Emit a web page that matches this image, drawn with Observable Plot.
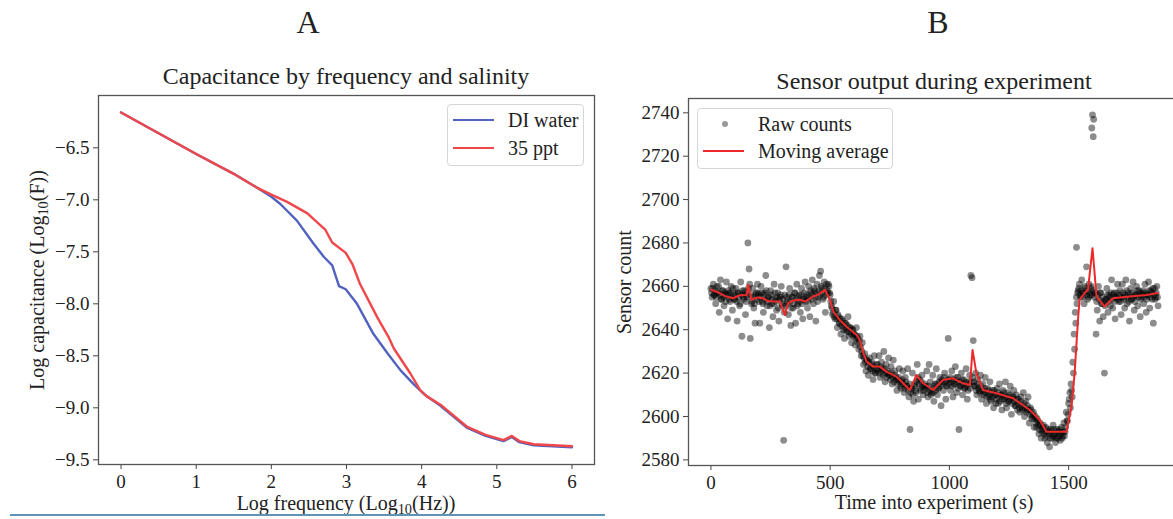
<!DOCTYPE html>
<html>
<head>
<meta charset="utf-8">
<script src="https://cdn.jsdelivr.net/npm/d3@7"></script>
<script src="https://cdn.jsdelivr.net/npm/@observablehq/plot@0.6"></script>
<style>
html, body { margin: 0; padding: 0; background: #fff; overflow: hidden; }
#wrap { position: relative; width: 1173px; height: 519px; overflow: hidden;
  font-family: "Liberation Serif", "Times New Roman", serif; color: #222; }
.abs { position: absolute; white-space: nowrap; line-height: 1; }
.ctr { transform: translateX(-50%); }
.rot { transform: translate(-50%, -50%) rotate(-90deg); }
sub { font-size: 0.72em; vertical-align: -0.25em; line-height: 0; }
.legend { position: absolute; border: 1px solid #d6d6d6; border-radius: 4px; background: rgba(255,255,255,0.85); box-sizing: border-box; }
.row { position: absolute; left: 0; height: 28px; display: flex; align-items: center; font-size: 20px; white-space: nowrap; }
.swatch { display: inline-block; width: 41px; height: 2.4px; margin-left: 5px; margin-right: 14px; }
.dotsw { display: inline-block; width: 41px; height: 28px; margin-left: 7px; margin-right: 12px; position: relative; }
.dotsw i { position: absolute; left: 17px; top: 11px; width: 6px; height: 6px; border-radius: 50%; background: rgba(0,0,0,0.4); }
#wrap svg { position: absolute; top: 0; }
#wrap svg text { font-family: "Liberation Serif", "Times New Roman", serif; }
</style>
</head>
<body>
<div id="wrap"></div>
<script>
// ---------------- Panel A: capacitance by frequency ----------------
const xTicksA = [0, 1, 2, 3, 4, 5, 6];
const yTicksA = [-6.5, -7.0, -7.5, -8.0, -8.5, -9.0, -9.5];

const diFreqLog = [0, 0.5, 1, 1.5, 1.8, 2.0, 2.12, 2.34, 2.56, 2.70, 2.81, 2.90, 2.99, 3.14, 3.35, 3.55, 3.72, 3.89, 4.05, 4.25, 4.6, 4.85, 5.09, 5.2, 5.3, 5.49, 6.0];
const diLogCap  = [-6.16, -6.36, -6.56, -6.75, -6.88, -6.97, -7.04, -7.20, -7.42, -7.55, -7.63, -7.83, -7.86, -8.00, -8.28, -8.48, -8.64, -8.77, -8.88, -8.98, -9.19, -9.27, -9.32, -9.28, -9.33, -9.36, -9.38];

const saltFreqLog = [0, 0.5, 1, 1.5, 1.8, 2.0, 2.21, 2.48, 2.72, 2.81, 2.99, 3.08, 3.18, 3.41, 3.56, 3.63, 3.85, 3.98, 4.07, 4.25, 4.6, 4.85, 5.09, 5.2, 5.3, 5.49, 6.0];
const saltLogCap  = [-6.16, -6.36, -6.56, -6.75, -6.88, -6.95, -7.02, -7.13, -7.29, -7.41, -7.51, -7.62, -7.81, -8.13, -8.32, -8.43, -8.67, -8.83, -8.89, -8.97, -9.18, -9.26, -9.31, -9.27, -9.32, -9.35, -9.37];

// ---------------- Panel B: sensor output ----------------
const xTicksB = [0, 500, 1000, 1500];
const yTicksB = [2580, 2600, 2620, 2640, 2660, 2680, 2700, 2720, 2740];
const sampleInterval = 5; // seconds between readings of each channel
// channel 1 readings at t = 0, 5, 10, ...
const rawCounts = [
  2659, 2655, 2661, 2656, 2652, 2660, 2657, 2648, 2663, 2654, 2658, 2651, 2656, 2662, 2645, 2657, 2653, 2660, 2649, 2656,
  2654, 2659, 2644, 2657, 2651, 2662, 2637, 2655, 2658, 2647, 2656, 2680, 2668, 2636, 2652, 2659, 2650, 2643, 2657, 2661,
  2656, 2643, 2660, 2653, 2648, 2657, 2665, 2651, 2655, 2641, 2658, 2652, 2646, 2661, 2654, 2649, 2657, 2644, 2655, 2660,
  2651, 2589, 2656, 2669, 2653, 2647, 2659, 2642, 2655, 2650, 2657, 2643, 2661, 2652, 2656, 2648, 2659, 2645, 2654, 2662,
  2655, 2650, 2660, 2646, 2657, 2663, 2652, 2658, 2644, 2661, 2655, 2665, 2667, 2659, 2654, 2662, 2648, 2661, 2657, 2660,
  2656, 2651, 2647, 2653, 2645, 2649, 2641, 2646, 2643, 2638, 2645, 2640, 2636, 2643, 2639, 2646, 2637, 2641, 2634, 2640,
  2638, 2633, 2641, 2636, 2631, 2637, 2628, 2634, 2624, 2629, 2621, 2626, 2619, 2627, 2622, 2625, 2617, 2628, 2620, 2624,
  2621, 2628, 2618, 2625, 2622, 2630, 2616, 2624, 2620, 2627, 2619, 2623, 2615, 2626, 2621, 2618, 2612, 2617, 2622, 2614,
  2616, 2621, 2611, 2618, 2614, 2622, 2609, 2594, 2613, 2620, 2607, 2615, 2611, 2624, 2608, 2617, 2612, 2619, 2610, 2614,
  2614, 2621, 2609, 2624, 2616, 2611, 2619, 2607, 2615, 2622, 2610, 2613, 2618, 2605, 2616, 2612, 2620, 2608, 2614, 2636,
  2617, 2612, 2621, 2609, 2615, 2623, 2611, 2618, 2594, 2614, 2620, 2610, 2617, 2613, 2622, 2608, 2616, 2619, 2665, 2664,
  2635, 2614, 2620, 2610, 2617, 2612, 2619, 2608, 2615, 2611, 2618, 2606, 2613, 2609, 2616, 2607, 2612, 2604, 2610, 2606,
  2613, 2606, 2615, 2610, 2603, 2612, 2608, 2616, 2604, 2611, 2607, 2614, 2601, 2609, 2612, 2605, 2610, 2603, 2608, 2602,
  2609, 2604, 2611, 2600, 2607, 2603, 2609, 2597, 2604, 2599, 2601, 2595, 2600, 2595, 2598, 2592, 2597, 2590, 2594, 2596,
  2590, 2595, 2588, 2593, 2586, 2594, 2590, 2596, 2591, 2588, 2594, 2590, 2593, 2589, 2595, 2591, 2597, 2593, 2602, 2598,
  2606, 2611, 2615, 2609, 2620, 2631, 2643, 2652, 2658, 2661, 2655, 2663, 2657, 2652, 2659, 2669, 2654, 2661, 2656, 2660,
  2739, 2737, 2657, 2638, 2649, 2660, 2644, 2657, 2652, 2646, 2620, 2654, 2659, 2648, 2656, 2651, 2663, 2650, 2657, 2645,
  2655, 2661, 2653, 2658, 2647, 2661, 2655, 2650, 2663, 2652, 2657, 2644, 2659, 2654, 2662, 2649, 2656, 2660, 2651, 2658,
  2646, 2655, 2657, 2652, 2661, 2648, 2656, 2662, 2650, 2658, 2654, 2643, 2659, 2655, 2660, 2651
];
// channel 2 readings at t = 2.5, 7.5, 12.5, ...
const rawCounts2 = [
  2657, 2659, 2656, 2658, 2655, 2657, 2660, 2656, 2654, 2658, 2655, 2657, 2653, 2656, 2658, 2654, 2657, 2655, 2659, 2654,
  2656, 2653, 2657, 2655, 2652, 2656, 2658, 2654, 2657, 2653, 2655, 2659, 2661, 2656, 2653, 2655, 2652, 2656, 2654, 2657,
  2653, 2655, 2657, 2652, 2656, 2654, 2658, 2653, 2655, 2651, 2656, 2654, 2652, 2657, 2653, 2655, 2650, 2654, 2656, 2652,
  2654, 2648, 2651, 2655, 2652, 2656, 2653, 2650, 2655, 2652, 2657, 2654, 2651, 2655, 2653, 2656, 2652, 2654, 2657, 2653,
  2656, 2653, 2655, 2658, 2654, 2656, 2659, 2655, 2657, 2653, 2658, 2656, 2660, 2657, 2655, 2659, 2656, 2658, 2661, 2657,
  2653, 2650, 2648, 2646, 2649, 2645, 2647, 2643, 2645, 2642, 2644, 2641, 2643, 2640, 2642, 2639, 2641, 2638, 2640, 2637,
  2638, 2636, 2637, 2634, 2635, 2632, 2630, 2628, 2627, 2625, 2626, 2623, 2625, 2622, 2624, 2621, 2623, 2620, 2622, 2624,
  2622, 2620, 2623, 2621, 2619, 2622, 2620, 2618, 2621, 2619, 2617, 2620, 2618, 2616, 2619, 2617, 2615, 2618, 2616, 2613,
  2617, 2615, 2613, 2616, 2614, 2612, 2615, 2611, 2613, 2610, 2614, 2612, 2616, 2618, 2615, 2613, 2616, 2614, 2612, 2615,
  2613, 2611, 2614, 2612, 2610, 2613, 2611, 2614, 2612, 2615, 2613, 2616, 2614, 2617, 2615, 2618, 2616, 2614, 2617, 2615,
  2618, 2616, 2614, 2617, 2615, 2618, 2616, 2613, 2616, 2614, 2617, 2615, 2613, 2616, 2614, 2612, 2615, 2613, 2616, 2618,
  2616, 2614, 2612, 2615, 2613, 2611, 2614, 2612, 2610, 2613, 2611, 2609, 2612, 2610, 2608, 2611, 2609, 2612, 2610, 2608,
  2611, 2609, 2607, 2610, 2608, 2611, 2609, 2606, 2609, 2607, 2610, 2608, 2606, 2609, 2607, 2605, 2608, 2606, 2604, 2607,
  2605, 2603, 2606, 2604, 2602, 2605, 2603, 2601, 2603, 2600, 2602, 2599, 2597, 2599, 2596, 2594, 2596, 2593, 2595, 2592,
  2593, 2591, 2594, 2592, 2590, 2593, 2591, 2594, 2592, 2590, 2593, 2591, 2594, 2592, 2590, 2593, 2591, 2595, 2598, 2601,
  2608, 2604, 2612, 2625, 2638, 2648, 2655, 2657, 2659, 2656, 2658, 2655, 2657, 2660, 2656, 2658, 2655, 2657, 2659, 2656,
  2658, 2655, 2657, 2653, 2656, 2654, 2657, 2652, 2655, 2653, 2651, 2654, 2656, 2653, 2655, 2657, 2654, 2656, 2653, 2655,
  2657, 2654, 2656, 2653, 2655, 2657, 2654, 2656, 2658, 2655, 2653, 2656, 2654, 2657, 2655, 2653, 2656, 2658, 2655, 2657,
  2654, 2656, 2658, 2655, 2657, 2654, 2656, 2658, 2655, 2657, 2659, 2656, 2654, 2657, 2655
];
const extraTimes  = [1533, 1597, 1603];
const extraCounts = [2678, 2733, 2729];

const maTimes = [0, 37, 60, 93, 120, 150, 156, 170, 195, 219, 240, 261, 289, 310, 324, 345, 373, 395, 428, 450,
  478, 499, 513, 540, 569, 611, 624, 639, 653, 680, 708, 736, 778, 834, 862, 890, 932, 973, 1015, 1057,
  1086, 1097, 1113, 1141, 1197, 1267, 1337, 1379, 1407, 1449, 1491, 1512, 1525, 1540, 1546, 1567, 1581, 1600, 1617, 1651,
  1686, 1756, 1826, 1874];
const maCounts = [2658.4, 2656.9, 2655.5, 2654.5, 2655.9, 2656, 2660.7, 2653.8, 2654.9, 2654.5, 2653.2, 2653, 2653, 2646.8, 2652.2, 2653.5, 2653.8, 2653.0, 2655.3, 2656.2,
  2658.4, 2653.8, 2648.4, 2644.5, 2641.4, 2637.6, 2635.3, 2629.2, 2625.3, 2623, 2623, 2620.7, 2618.4, 2612.2, 2619.1, 2615.3, 2612.2, 2616.8, 2617.6, 2615.3,
  2614.5, 2630.7, 2620, 2612.2, 2610.7, 2608.4, 2603, 2598.4, 2593, 2593, 2593, 2604.5, 2620, 2646, 2653.8, 2656.9, 2658.4, 2677.6, 2655.3, 2650.7,
  2654.5, 2655.3, 2656, 2656.9];

// ---------------- build tables ----------------
const diRows = diFreqLog.map((x, i) => ({x, y: diLogCap[i]}));
const saltRows = saltFreqLog.map((x, i) => ({x, y: saltLogCap[i]}));
const rawRows = rawCounts.map((c, i) => ({t: i * sampleInterval, c}))
  .concat(rawCounts2.map((c, i) => ({t: i * sampleInterval + sampleInterval / 2, c})))
  .concat(extraTimes.map((t, i) => ({t, c: extraCounts[i]})));
const maRows = maTimes.map((t, i) => ({t, c: maCounts[i]}));

const FONT = '"Liberation Serif", "Times New Roman", serif';
const baseStyle = 'font-family: "Liberation Serif", "Times New Roman", serif; font-size: 19px; color: #222; background: transparent; max-width: none; overflow: visible;';
const fmtA = d => d.toFixed(1).replace("-", "\u2212");
const axisOpts = {tickSize: 5, label: null, fontSize: 19, fontFamily: FONT, stroke: "#444"};

const plotA = Plot.plot({
  width: 620, height: 519,
  marginLeft: 98, marginRight: 26, marginTop: 95, marginBottom: 55,
  style: baseStyle,
  x: {domain: [-0.3, 6.3]},
  y: {domain: [-9.545, -5.997]},
  marks: [
    Plot.axisX({...axisOpts, ticks: xTicksA, tickFormat: d => String(d), tickPadding: 5}),
    Plot.axisY({...axisOpts, ticks: yTicksA, tickFormat: fmtA, tickPadding: 4}),
    Plot.line(diRows, {x: "x", y: "y", stroke: "#5262bf", strokeWidth: 2.4}),
    Plot.line(saltRows, {x: "x", y: "y", stroke: "#f0474a", strokeWidth: 2.4}),
    Plot.frame({stroke: "#555", strokeWidth: 1.3})
  ]
});
plotA.style.left = "0px";

const plotB = Plot.plot({
  width: 590, height: 519,
  marginLeft: 88, marginRight: 10, marginTop: 98, marginBottom: 54,
  style: baseStyle,
  x: {domain: [-94, 1969]},
  y: {domain: [2577.4, 2746.6]},
  marks: [
    Plot.axisX({...axisOpts, ticks: xTicksB, tickFormat: d => String(d), tickPadding: 5}),
    Plot.axisY({...axisOpts, ticks: yTicksB, tickFormat: d => String(d), tickPadding: 4}),
    Plot.dot(rawRows, {x: "t", y: "c", r: 3.4, fill: "#000", fillOpacity: 0.45, stroke: null}),
    Plot.line(maRows, {x: "t", y: "c", stroke: "#ec2a2a", strokeWidth: 2}),
    Plot.frame({stroke: "#555", strokeWidth: 1.3})
  ]
});
plotB.style.left = "600px";

const wrap = document.getElementById("wrap");
wrap.appendChild(plotA);
wrap.appendChild(plotB);

function addText(html, cls, css) {
  const d = document.createElement("div");
  d.className = "abs " + cls;
  d.innerHTML = html;
  Object.assign(d.style, css);
  wrap.appendChild(d);
  return d;
}
// panel letters & titles
addText("A", "ctr", {left: "308px", top: "6px", fontSize: "32px"});
addText("B", "ctr", {left: "938px", top: "6px", fontSize: "32px"});
addText("Capacitance by frequency and salinity", "ctr", {left: "346px", top: "64px", fontSize: "24px"});
addText("Sensor output during experiment", "ctr", {left: "934px", top: "69px", fontSize: "24px"});
// axis labels
addText("Log frequency (Log<sub>10</sub>(Hz))", "ctr", {left: "346px", top: "493px", fontSize: "20px"});
addText("Log capacitance (Log<sub>10</sub>(F))", "rot", {left: "37px", top: "280px", fontSize: "20px"});
addText("Time into experiment (s)", "ctr", {left: "934px", top: "492px", fontSize: "20px"});
addText("Sensor count", "rot", {left: "624px", top: "282px", fontSize: "20px"});

// legends
function legend(left, top, width, height, rows) {
  const box = document.createElement("div");
  box.className = "legend";
  Object.assign(box.style, {left: left + "px", top: top + "px", width: width + "px", height: height + "px"});
  rows.forEach((r) => {
    const row = document.createElement("div");
    row.className = "row";
    row.style.top = (r.cy - 14) + "px";
    if (r.dot) {
      row.innerHTML = '<span class="dotsw"><i></i></span>' + r.label;
    } else {
      row.innerHTML = '<span class="swatch" style="background:' + r.color + '"></span>' + r.label;
    }
    box.appendChild(row);
  });
  wrap.appendChild(box);
}
legend(447, 104, 137, 62, [
  {label: "DI water", color: "#5262bf", cy: 15},
  {label: "35 ppt", color: "#f0474a", cy: 43}
]);
legend(697, 108, 196, 61, [
  {label: "Raw counts", dot: true, cy: 15},
  {label: "Moving average", color: "#ec2a2a", cy: 42}
]);

// bottom rule under panel A
const rule = document.createElement("div");
Object.assign(rule.style, {position: "absolute", left: "10px", top: "514px", width: "595px", height: "2px", background: "#5f93b8"});
wrap.appendChild(rule);
</script>
</body>
</html>
